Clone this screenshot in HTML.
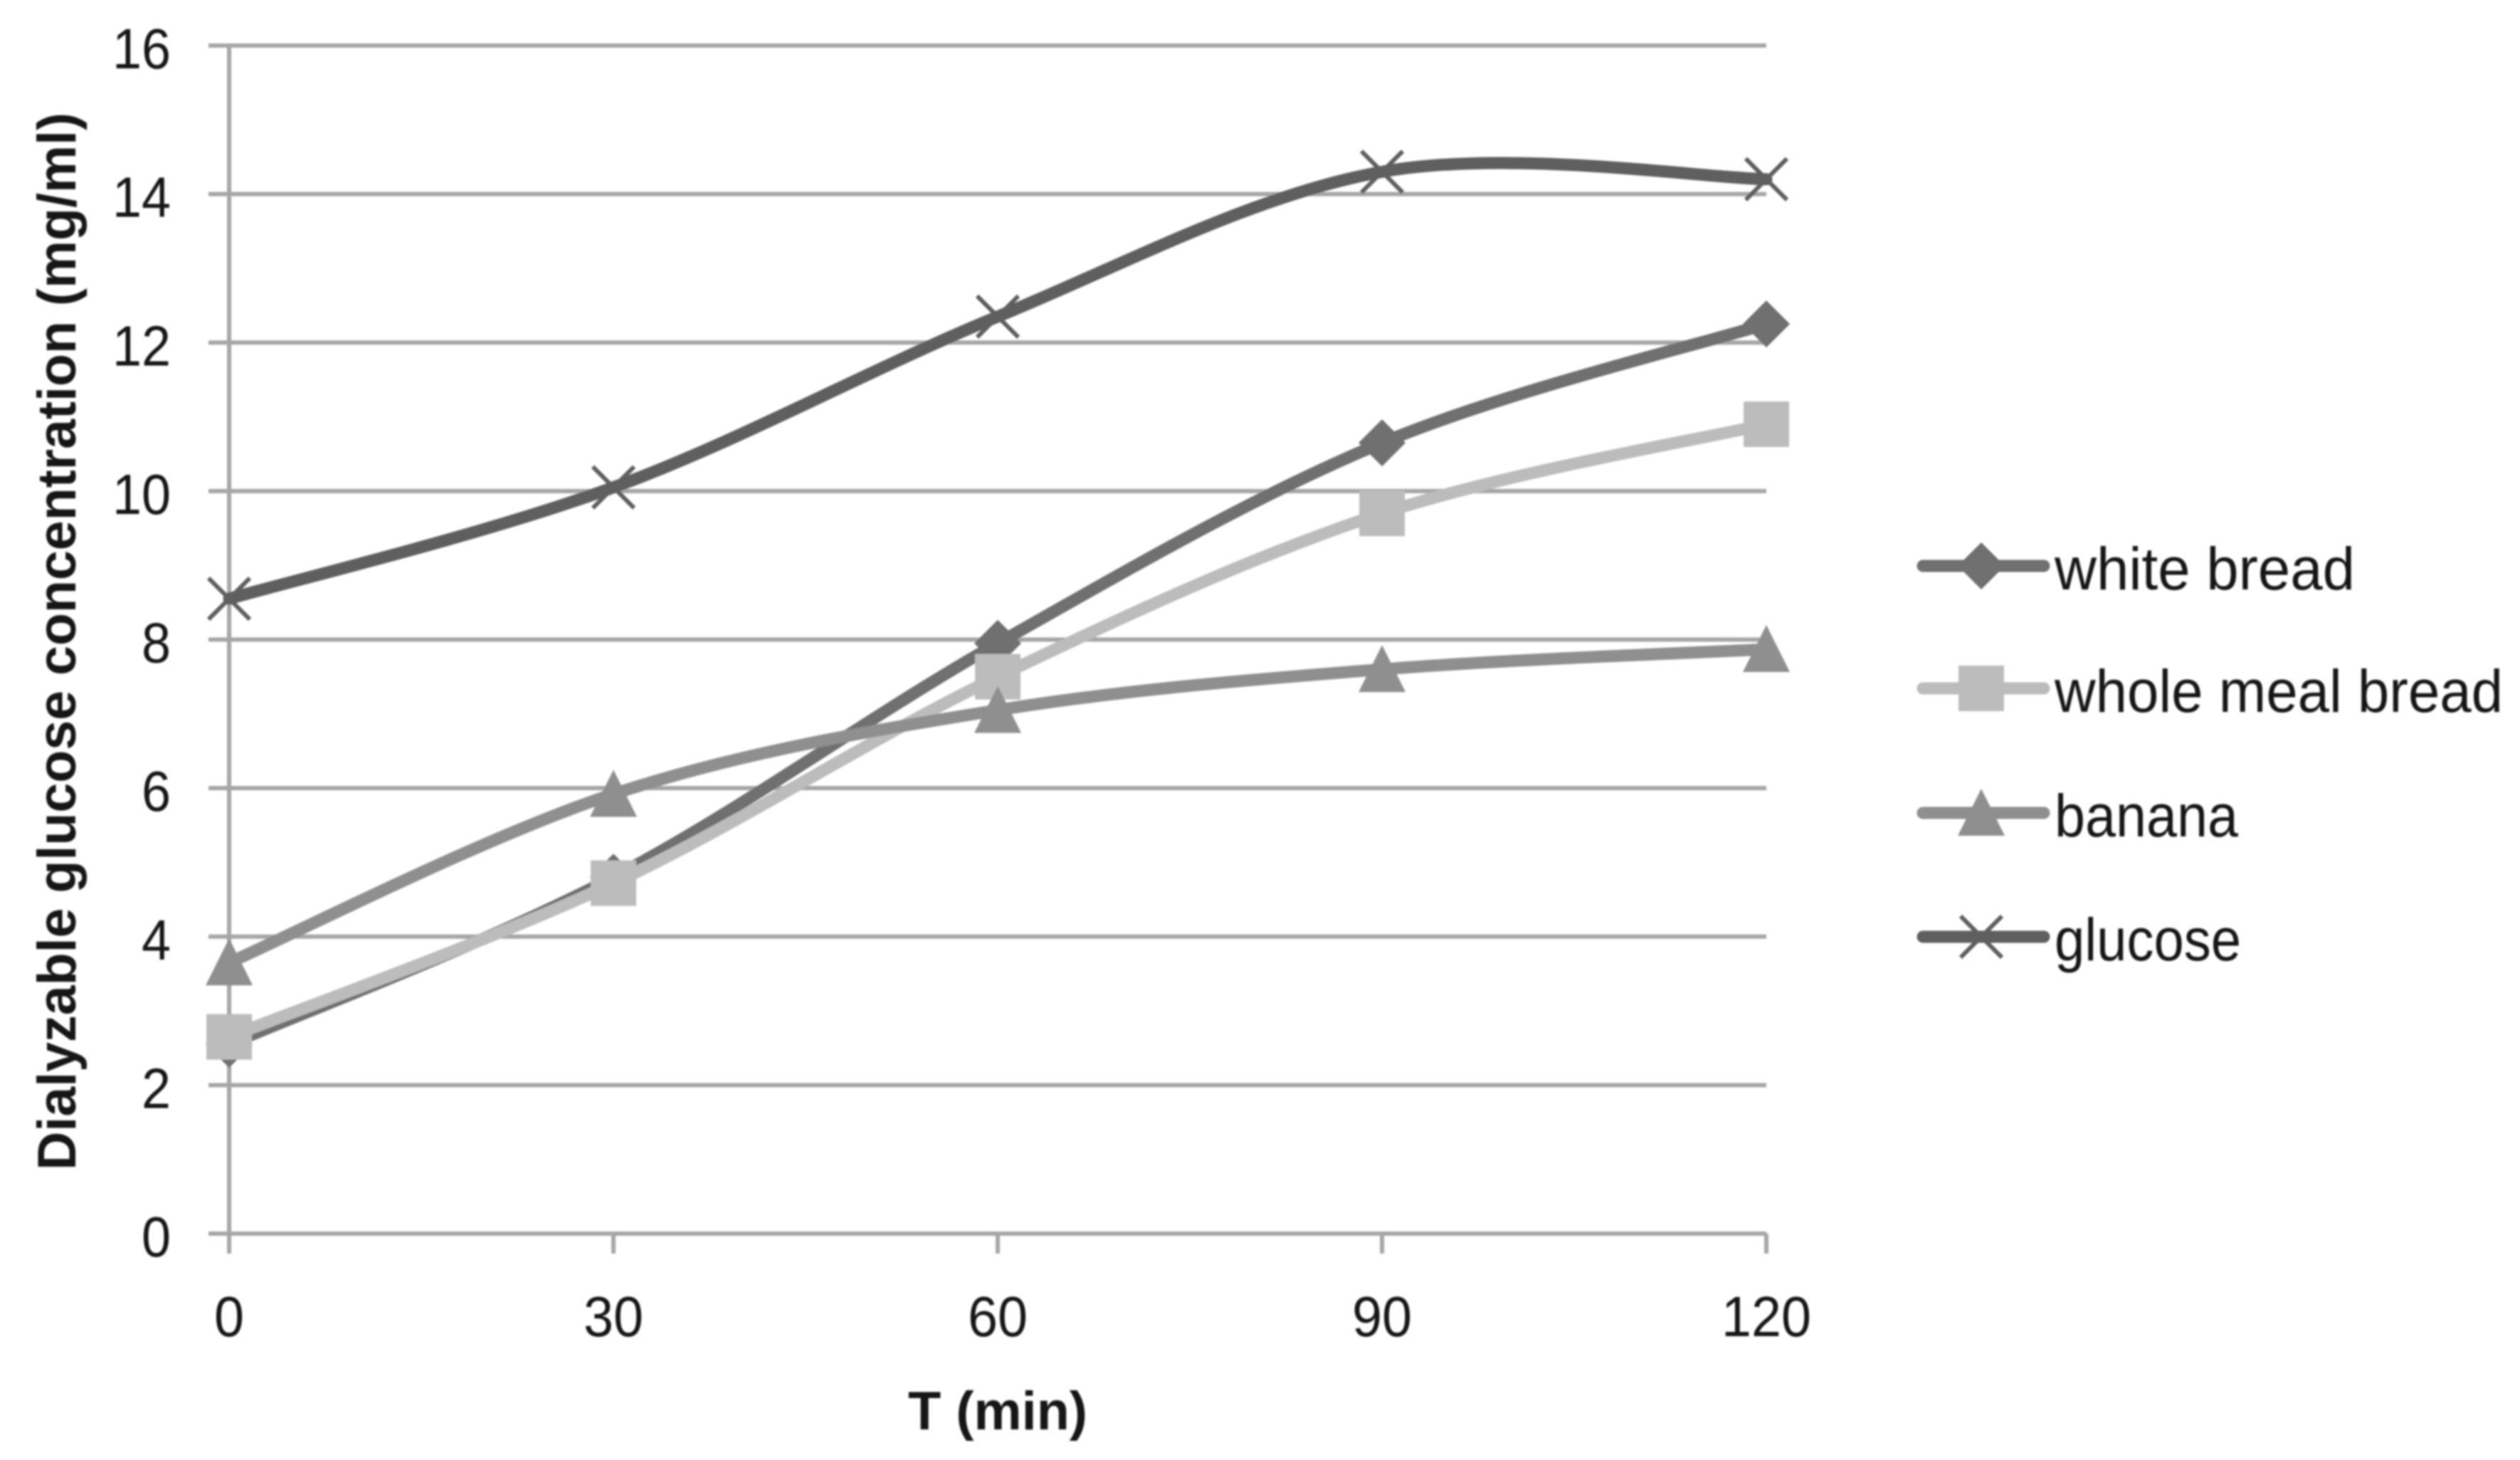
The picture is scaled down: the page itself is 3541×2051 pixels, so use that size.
<!DOCTYPE html>
<html lang="en">
<head>
<meta charset="utf-8">
<title>Dialyzable glucose concentration chart</title>
<style>
html,body{margin:0;padding:0;background:#fff;}
#chart{display:block;width:3541px;height:2051px;background:#fff;}
text{font-family:"Liberation Sans","DejaVu Sans",sans-serif;fill:#141414;}
</style>
</head>
<body>
<svg id="chart" xmlns="http://www.w3.org/2000/svg" width="3541" height="2051" viewBox="0 0 3541 2051">
  <defs>
    <filter id="soft" x="-5%" y="-5%" width="110%" height="110%"><feGaussianBlur stdDeviation="1.3"/></filter>
  </defs>
  <rect x="0" y="0" width="3541" height="2051" fill="#ffffff"/>
  <g id="plot" filter="url(#soft)"></g>
  <g id="labels" filter="url(#soft)"></g>
</svg>
<script>
const categories = [0, 30, 60, 90, 120];
const yTicks = [0, 2, 4, 6, 8, 10, 12, 14, 16];
const seriesNames = ['white bread', 'whole meal bread', 'banana', 'glucose'];
const whiteBread = [2.55, 4.8, 7.95, 10.65, 12.25];
const wholeMealBread = [2.65, 4.72, 7.5, 9.7, 10.9];
const banana = [3.65, 5.92, 7.05, 7.6, 7.87];
const glucose = [8.55, 10.05, 12.35, 14.3, 14.2];

const seriesValues = [whiteBread, wholeMealBread, banana, glucose];
const seriesColors = ['#6f6f6f', '#bcbcbc', '#8f8f8f', '#5f5f5f'];
const seriesMarkers = ['diamond', 'square', 'triangle', 'cross'];
const SVGNS = 'http://www.w3.org/2000/svg';
const plot = document.getElementById('plot');
const labels = document.getElementById('labels');

const plotLeft = 322, plotRight = 2482, plotTop = 64, plotBottom = 1733;
function xScale(v) { return plotLeft + (v - categories[0]) / (categories[categories.length - 1] - categories[0]) * (plotRight - plotLeft); }
function yScale(v) { return plotBottom - (v - yTicks[0]) / (yTicks[yTicks.length - 1] - yTicks[0]) * (plotBottom - plotTop); }

function make(tag, parent, props) {
  const el = document.createElementNS(SVGNS, tag);
  for (const k in props) el.setAttribute(k, props[k]);
  parent.appendChild(el);
  return el;
}

function smoothPath(pts) {
  let d = 'M' + pts[0][0] + ' ' + pts[0][1];
  for (let i = 0; i < pts.length - 1; i++) {
    const p0 = pts[Math.max(i - 1, 0)], p1 = pts[i], p2 = pts[i + 1], p3 = pts[Math.min(i + 2, pts.length - 1)];
    const c1x = p1[0] + (p2[0] - p0[0]) / 6, c1y = p1[1] + (p2[1] - p0[1]) / 6;
    const c2x = p2[0] - (p3[0] - p1[0]) / 6, c2y = p2[1] - (p3[1] - p1[1]) / 6;
    d += ' C' + c1x + ' ' + c1y + ' ' + c2x + ' ' + c2y + ' ' + p2[0] + ' ' + p2[1];
  }
  return d;
}

function drawMarker(kind, cx, cy, color, parent) {
  const r = 32;
  if (kind === 'diamond') {
    return make('polygon', parent, {points: [cx, cy - r - 1, cx + r + 1, cy, cx, cy + r + 1, cx - r - 1, cy].join(','), fill: color});
  }
  if (kind === 'square') {
    return make('rect', parent, {x: cx - r, y: cy - r, width: 2 * r, height: 2 * r, fill: color});
  }
  if (kind === 'triangle') {
    return make('polygon', parent, {points: [cx, cy - r - 2, cx + r + 1, cy + r, cx - r - 1, cy + r].join(','), fill: color});
  }
  return make('path', parent, {d: 'M' + (cx - 29) + ' ' + (cy - 29) + ' L' + (cx + 29) + ' ' + (cy + 29) + ' M' + (cx - 29) + ' ' + (cy + 29) + ' L' + (cx + 29) + ' ' + (cy - 29), stroke: color, 'stroke-width': 6, fill: 'none'});
}

/* grid lines and y ticks */
yTicks.forEach(function (t) {
  const y = yScale(t);
  const line = make('line', plot, {x1: 293, x2: plotRight, y1: y, y2: y, stroke: '#a6a6a6', 'stroke-width': 6});
  
  
  const label = make('text', labels, {x: 240, y: y + 32, 'text-anchor': 'end', 'font-size': 80, textLength: String(t).length * 41, lengthAdjust: 'spacingAndGlyphs'});
  label.textContent = String(t);
  
  
});

/* y axis line */
const yAxis = make('line', plot, {x1: plotLeft, x2: plotLeft, y1: plotTop, y2: plotBottom + 28, stroke: '#a6a6a6', 'stroke-width': 6});



/* x ticks */
categories.forEach(function (c) {
  const x = xScale(c);
  const tick = make('line', plot, {x1: x, x2: x, y1: plotBottom, y2: plotBottom + 28, stroke: '#a6a6a6', 'stroke-width': 6});
  
  
  const label = make('text', labels, {x: x, y: 1877, 'text-anchor': 'middle', 'font-size': 80, textLength: String(c).length * 42, lengthAdjust: 'spacingAndGlyphs'});
  label.textContent = String(c);
  
  
});

/* series */
seriesValues.forEach(function (vals, si) {
  const group = make('g', plot, {});
  
  
  const pts = vals.map(function (v, i) { return [xScale(categories[i]), yScale(v)]; });
  const path = make('path', group, {d: smoothPath(pts), fill: 'none', stroke: seriesColors[si], 'stroke-width': 17, 'stroke-linecap': 'round', 'stroke-linejoin': 'round'});
  
  
  pts.forEach(function (p, i) {
    const mark = drawMarker(seriesMarkers[si], p[0], p[1], seriesColors[si], group);
    
    
  });
});

/* legend */
const legendY = [795, 967, 1142, 1316];
const legendTextWidth = [422, 630, 258, 262];
seriesNames.forEach(function (name, i) {
  const group = make('g', plot, {});
  
  
  const y = legendY[i];
  const key = make('line', group, {x1: 2702, x2: 2872, y1: y, y2: y, stroke: seriesColors[i], 'stroke-width': 17, 'stroke-linecap': 'round'});
  
  
  const mark = drawMarker(seriesMarkers[i], 2784, y, seriesColors[i], group);
  
  
  const label = make('text', labels, {x: 2887, y: y + 33, 'font-size': 84, textLength: legendTextWidth[i], lengthAdjust: 'spacingAndGlyphs'});
  label.textContent = name;
  
  
});

/* axis titles */
const yTitle = make('text', labels, {transform: 'translate(106 901) rotate(-90)', 'text-anchor': 'middle', 'font-size': 76, 'font-weight': 'bold', textLength: 1486, lengthAdjust: 'spacingAndGlyphs'});
yTitle.textContent = 'Dialyzable glucose concentration (mg/ml)';



const xTitle = make('text', labels, {x: 1402, y: 2008, 'text-anchor': 'middle', 'font-size': 76, 'font-weight': 'bold', textLength: 252, lengthAdjust: 'spacingAndGlyphs'});
xTitle.textContent = 'T (min)';


</script>
</body>
</html>
